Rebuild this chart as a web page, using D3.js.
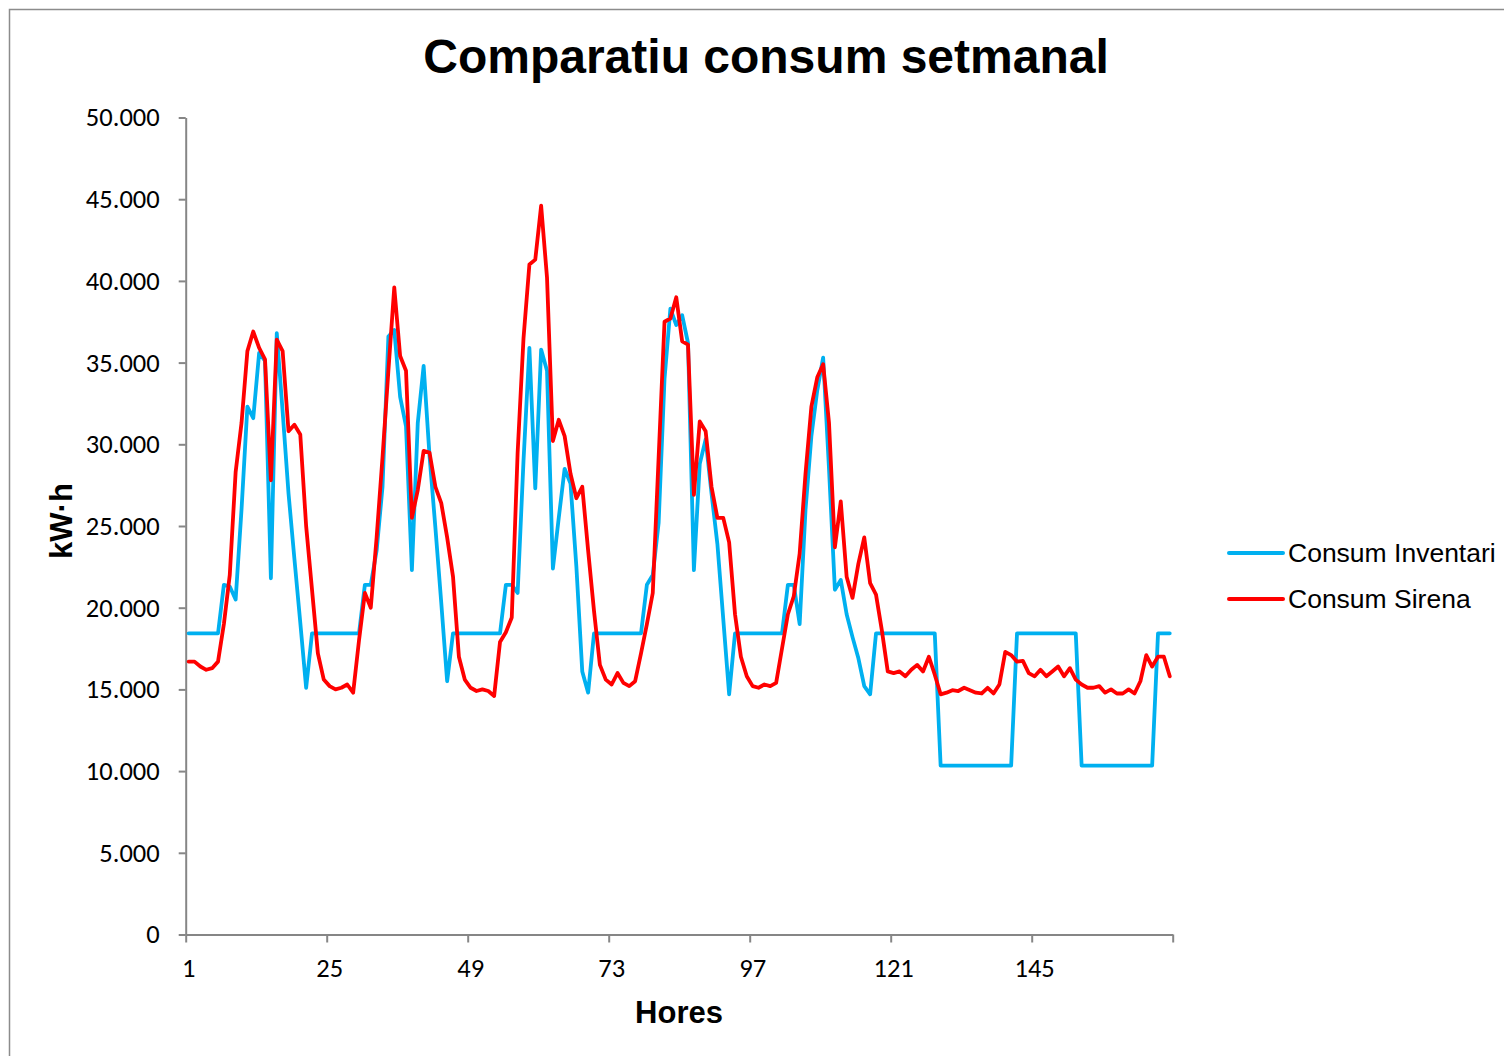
<!DOCTYPE html>
<html>
<head>
<meta charset="utf-8">
<script src="https://cdn.jsdelivr.net/npm/d3@7"></script>
<style>
  body { margin: 0; background: #fff; }
  svg { display: block; }
</style>
</head>
<body>
<script>
// Weekly consumption, kWh per hour (hours 1..168)
const hours = d3.range(1, 169);

const consumInventari = [
  18430, 18430, 18430, 18430, 18430, 18430, 21400, 21300, 20500, 26000, 32300, 31600,
  35600, 35100, 21800, 36800, 32000, 27000, 23000, 19100, 15100, 18430, 18430, 18430,
  18430, 18430, 18430, 18430, 18430, 18430, 21400, 21400, 23500, 27400, 36600, 37000,
  32900, 31100, 22300, 31300, 34800, 29300, 24900, 20300, 15500, 18430, 18430, 18430,
  18430, 18430, 18430, 18430, 18430, 18430, 21400, 21400, 20900, 29000, 35900, 27300,
  35800, 34500, 22400, 25500, 28500, 27600, 22500, 16100, 14800, 18430, 18430, 18430,
  18430, 18430, 18430, 18430, 18430, 18430, 21400, 22000, 25200, 34000, 38300, 37300,
  37900, 36200, 22300, 28800, 30300, 27000, 23900, 19300, 14700, 18430, 18430, 18430,
  18430, 18430, 18430, 18430, 18430, 18430, 21400, 21400, 19000, 26000, 30500, 33300,
  35300, 28500, 21100, 21700, 19600, 18200, 16900, 15200, 14700, 18430, 18430, 18430,
  18430, 18430, 18430, 18430, 18430, 18430, 18430, 18430, 10330, 10330, 10330, 10330,
  10330, 10330, 10330, 10330, 10330, 10330, 10330, 10330, 10330, 18430, 18430, 18430,
  18430, 18430, 18430, 18430, 18430, 18430, 18430, 18430, 10330, 10330, 10330, 10330,
  10330, 10330, 10330, 10330, 10330, 10330, 10330, 10330, 10330, 18430, 18430, 18430
];

const consumSirena = [
  16700, 16700, 16400, 16200, 16300, 16700, 19000, 22000, 28300, 31300, 35700, 36900,
  35900, 35200, 27800, 36400, 35700, 30800, 31200, 30600, 25000, 21100, 17200, 15600,
  15200, 15000, 15100, 15300, 14800, 18000, 20900, 20000, 24300, 29200, 34500, 39600,
  35400, 34500, 25500, 27200, 29600, 29500, 27400, 26400, 24300, 21900, 17000, 15600,
  15100, 14900, 15000, 14900, 14600, 17900, 18500, 19400, 29500, 36500, 41000, 41300,
  44600, 40200, 30200, 31500, 30500, 28200, 26700, 27400, 23500, 19800, 16500, 15600,
  15300, 16000, 15400, 15200, 15500, 17200, 19000, 20900, 29200, 37500, 37700, 39000,
  36300, 36100, 26900, 31400, 30800, 27400, 25500, 25500, 24000, 19600, 17000, 15800,
  15200, 15100, 15300, 15200, 15400, 17500, 19600, 20700, 23300, 28200, 32300, 34100,
  34900, 31300, 23700, 26500, 21900, 20600, 22700, 24300, 21500, 20800, 18600, 16100,
  16000, 16100, 15800, 16200, 16500, 16100, 17000, 15900, 14700, 14800, 14950, 14900,
  15100, 14950, 14800, 14750, 15100, 14750, 15300, 17300, 17100, 16700, 16750, 16000,
  15800, 16200, 15800, 16100, 16400, 15800, 16300, 15600, 15300, 15100, 15100, 15200,
  14800, 15000, 14750, 14750, 15000, 14750, 15500, 17100, 16400, 17000, 17000, 15800
];

const yTicks = d3.range(0, 50001, 5000);
const xTickLabels = [1, 25, 49, 73, 97, 121, 145];
const xTickMarks = [0, 24, 48, 72, 96, 120, 144, 168];

const seriesNames = ['Consum Inventari', 'Consum Sirena'];
const seriesColors = ['#00B0F0', '#FF0000'];

const W = 1504, H = 1056;
const plotLeft = 185.7, plotRight = 1172.7, plotTop = 117.5, plotBottom = 934.5;

const svg = d3.select('body').append('svg')
    .attr('width', W)
    .attr('height', H);

// Chart border (cropped at right and bottom)
svg.append('path')
    .attr('d', `M9.5,${H} L9.5,9.5 L${W},9.5`)
    .attr('fill', 'none')
    .attr('stroke', '#8c8c8c')
    .attr('stroke-width', 1.5);

// Scales
const x = d3.scaleBand().domain(hours).range([plotLeft, plotRight]);
const xEdge = d3.scaleLinear().domain([0, 168]).range([plotLeft, plotRight]);
const y = d3.scaleLinear().domain([0, 50000]).range([plotBottom, plotTop]);

const locale = d3.formatLocale({ decimal: ',', thousands: '.', grouping: [3], currency: ['', '€'] });
const fmt = locale.format(',');

const tickFont = "Carlito, Calibri, 'Open Sans', sans-serif";

// Y axis
const yAxis = svg.append('g')
    .attr('transform', `translate(${plotLeft},0)`)
    .call(d3.axisLeft(y).tickValues(yTicks).tickFormat(fmt).tickSize(7).tickSizeOuter(0).tickPadding(19));

// X axis: tick marks at hour boundaries
const xAxis = svg.append('g')
    .attr('transform', `translate(0,${plotBottom})`)
    .call(d3.axisBottom(xEdge).tickValues(xTickMarks).tickFormat('').tickSize(8).tickSizeOuter(0));

// X axis labels centred on the hours
const xLabels = svg.append('g')
    .attr('transform', `translate(0,${plotBottom})`)
    .call(d3.axisBottom(x).tickValues(xTickLabels).tickSize(0).tickPadding(24));
xLabels.select('.domain').remove();

[yAxis, xAxis].forEach(g => {
    g.select('.domain').attr('stroke', '#868686').attr('stroke-width', 2);
    g.selectAll('.tick line').attr('stroke', '#868686').attr('stroke-width', 2);
});
[yAxis, xLabels].forEach(g => {
    g.selectAll('.tick text')
        .attr('font-family', tickFont)
        .attr('font-size', '26.5px')
        .attr('fill', '#000');
});

// Lines
const line = d3.line()
    .x((d, i) => x(hours[i]) + x.bandwidth() / 2)
    .y(d => y(d));

[consumInventari, consumSirena].forEach((values, k) => {
    svg.append('path')
        .datum(values)
        .attr('fill', 'none')
        .attr('stroke', seriesColors[k])
        .attr('stroke-width', 3.8)
        .attr('stroke-linejoin', 'round')
        .attr('stroke-linecap', 'round')
        .attr('d', line);
});

// Title
svg.append('text')
    .attr('x', 766)
    .attr('y', 73)
    .attr('text-anchor', 'middle')
    .attr('font-family', "'Liberation Sans', Arial, sans-serif")
    .attr('font-weight', 'bold')
    .attr('font-size', '48px')
    .text('Comparatiu consum setmanal');

// Axis titles
svg.append('text')
    .attr('x', 679)
    .attr('y', 1023)
    .attr('text-anchor', 'middle')
    .attr('font-family', "'Liberation Sans', Arial, sans-serif")
    .attr('font-weight', 'bold')
    .attr('font-size', '31px')
    .text('Hores');

svg.append('text')
    .attr('transform', 'translate(72,521) rotate(-90)')
    .attr('text-anchor', 'middle')
    .attr('font-family', "'Liberation Sans', Arial, sans-serif")
    .attr('font-weight', 'bold')
    .attr('font-size', '31px')
    .text('kW·h');

// Legend
const legend = svg.append('g')
    .attr('transform', 'translate(1229,553)');

seriesNames.forEach((name, i) => {
    const row = legend.append('g').attr('transform', `translate(0,${i * 46})`);
    row.append('line')
        .attr('x1', 0).attr('x2', 54)
        .attr('y1', 0).attr('y2', 0)
        .attr('stroke', seriesColors[i])
        .attr('stroke-width', 4)
        .attr('stroke-linecap', 'round');
    row.append('text')
        .attr('x', 59)
        .attr('y', 8.5)
        .attr('font-family', "'Liberation Sans', Arial, sans-serif")
        .attr('font-size', '26.5px')
        .text(name);
});
</script>
</body>
</html>
